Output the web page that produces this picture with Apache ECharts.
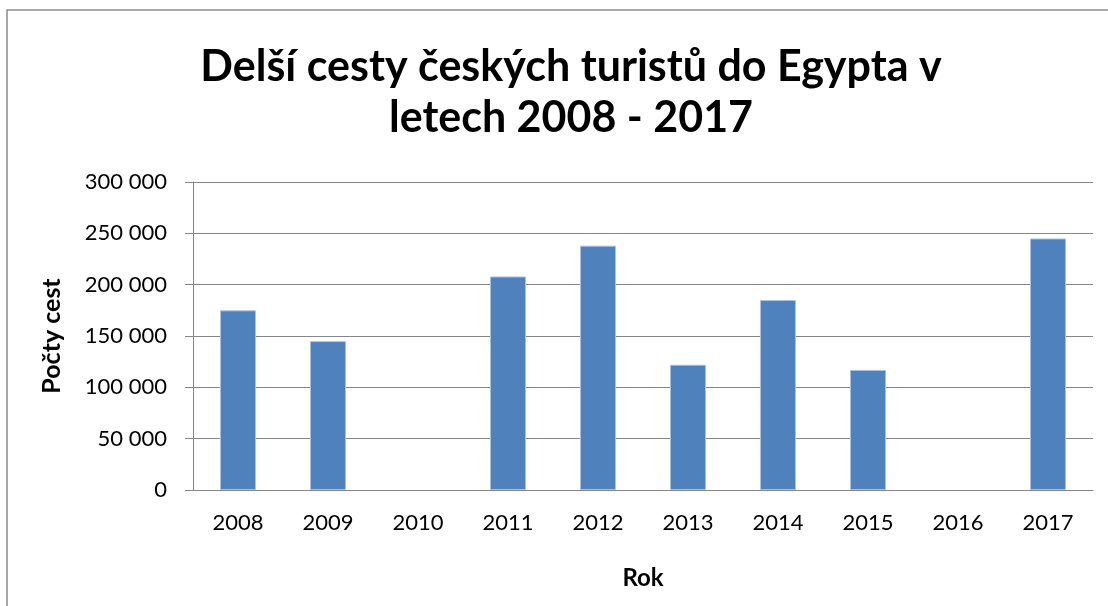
<!DOCTYPE html>
<html>
<head>
<meta charset="utf-8">
<script src="https://cdn.jsdelivr.net/npm/echarts@6/dist/echarts.min.js"></script>
<style>html,body{margin:0;padding:0;background:#fff;}#c{width:1108px;height:606px;}</style>
</head>
<body>
<div id="c"></div>
<script>
const titleText = 'Delší cesty českých turistů do Egypta v\nletech 2008 - 2017';
const years = ['2008','2009','2010','2011','2012','2013','2014','2015','2016','2017'];
const trips = [175000, 145000, null, 208000, 238000, 122000, 185000, 117000, null, 245000];
const yTicks = { min: 0, max: 300000, interval: 50000 };
const yName = 'Počty cest';
const xName = 'Rok';

const fmt = v => String(v).replace(/\B(?=(\d{3})+(?!\d))/g, ' ');
const chart = echarts.init(document.getElementById('c'), null, {renderer: 'canvas'});
chart.setOption({
  backgroundColor: '#ffffff',
  animation: false,
  graphic: [{
    type: 'rect', silent: true, z: -1,
    shape: {x: 7, y: 10, width: 1300, height: 800},
    style: {fill: 'none', stroke: '#8a8a8a', lineWidth: 1.5}
  }],
  title: {
    text: titleText,
    left: 566, top: 37, textAlign: 'center',
    textStyle: {fontFamily: 'Lato', fontWeight: 'bold', fontSize: 43, lineHeight: 51, color: '#000'}
  },
  grid: {left: 193, top: 182, width: 900, height: 308, containLabel: false},
  xAxis: {
    type: 'category', data: years,
    name: xName, nameLocation: 'middle', nameGap: 76,
    nameTextStyle: {fontFamily: 'Lato', fontWeight: 'bold', fontSize: 24, color: '#000'},
    axisLine: {lineStyle: {color: '#868686', width: 1}},
    axisTick: {show: false},
    axisLabel: {fontFamily: 'Lato', fontSize: 22, color: '#000', margin: 22}
  },
  yAxis: {
    type: 'value', min: yTicks.min, max: yTicks.max, interval: yTicks.interval,
    name: yName, nameLocation: 'middle', nameGap: 129, nameRotate: 90,
    nameTextStyle: {fontFamily: 'Lato', fontWeight: 'bold', fontSize: 25, color: '#000'},
    axisLine: {show: true, lineStyle: {color: '#868686', width: 1}},
    axisTick: {show: true, length: 8, lineStyle: {color: '#868686'}},
    splitLine: {lineStyle: {color: '#868686', width: 1}},
    axisLabel: {fontFamily: 'Lato', fontSize: 22, color: '#000', margin: 26, formatter: fmt}
  },
  series: [{
    type: 'bar', data: trips, barWidth: '40%',
    itemStyle: {color: '#4F81BD', borderColor: '#a9c2e3', borderWidth: 1}
  }]
});
</script>
</body>
</html>
